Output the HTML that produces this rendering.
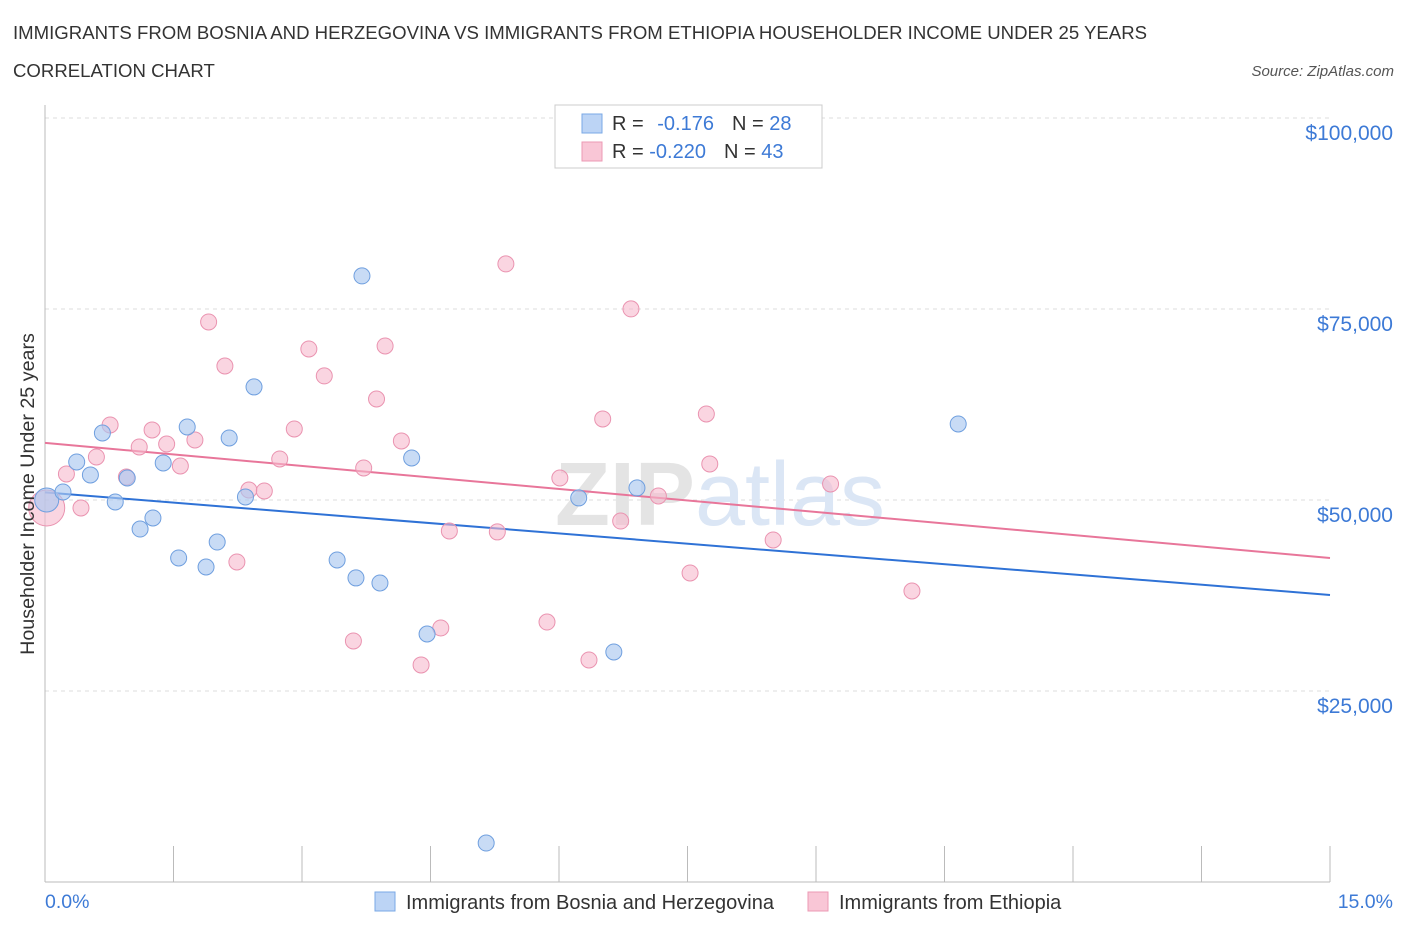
<!DOCTYPE html>
<html><head><meta charset="utf-8"><style>
body{margin:0;background:#fff;font-family:"Liberation Sans",sans-serif;}
</style></head><body>
<svg width="1406" height="930" xmlns="http://www.w3.org/2000/svg" style="font-family:'Liberation Sans',sans-serif">
<text x="13" y="39" font-size="18.6" fill="#333">IMMIGRANTS FROM BOSNIA AND HERZEGOVINA VS IMMIGRANTS FROM ETHIOPIA HOUSEHOLDER INCOME UNDER 25 YEARS</text>
<text x="13" y="77" font-size="18.6" fill="#333">CORRELATION CHART</text>
<text x="1394" y="76" font-size="15" fill="#555" text-anchor="end" font-style="italic">Source: ZipAtlas.com</text>
<g id="grid"></g>
<g id="axes"></g>
<text x="720" y="525" font-size="90" text-anchor="middle" fill="#e4e4e4" font-weight="bold">ZIP<tspan fill="#dbe6f5" font-weight="normal">atlas</tspan></text>
<g id="lines"></g>
<g id="pts"></g>
<text transform="translate(34,494) rotate(-90)" font-size="19.7" fill="#333" text-anchor="middle">Householder Income Under 25 years</text>
<text x="45" y="908" font-size="19.5" fill="#3d7ad6">0.0%</text>
<text x="1393" y="908" font-size="19.5" fill="#3d7ad6" text-anchor="end">15.0%</text>
<g>
<rect x="555" y="105" width="267" height="63" fill="#fff" stroke="#ccc"/>
<rect x="582" y="114" width="20" height="19" fill="#bcd4f5" stroke="#7aa8e6"/>
<rect x="582" y="142" width="20" height="19" fill="#f9c6d6" stroke="#ec9ab4"/>
<text x="612" y="130" font-size="20" fill="#333">R = <tspan fill="#3d7ad6" dx="8">-0.176</tspan><tspan dx="18">N = </tspan><tspan fill="#3d7ad6">28</tspan></text>
<text x="612" y="158" font-size="20" fill="#333">R = <tspan fill="#3d7ad6">-0.220</tspan><tspan dx="18">N = </tspan><tspan fill="#3d7ad6">43</tspan></text>
</g>
<g>
<rect x="375" y="892" width="20" height="19" fill="#bcd4f5" stroke="#7aa8e6"/>
<text x="406" y="909" font-size="20" fill="#333">Immigrants from Bosnia and Herzegovina</text>
<rect x="808" y="892" width="20" height="19" fill="#f9c6d6" stroke="#ec9ab4"/>
<text x="839" y="909" font-size="20" fill="#333">Immigrants from Ethiopia</text>
</g>
</svg>
<script>
const yTicks=[25000,50000,75000,100000];
const yTickLabels=["$25,000","$50,000","$75,000","$100,000"];
const xTicks=[0,1.5,3,4.5,6,7.5,9,10.5,12,13.5,15];
const blueX=[0.02,0.21,0.37,0.53,0.67,0.82,0.96,1.11,1.26,1.38,1.56,1.66,1.88,2.01,2.15,2.34,2.44,3.41,3.63,3.70,3.91,4.28,4.46,5.15,6.23,6.64,6.91,10.66];
const blueY=[50000,51050,54980,53280,58770,49740,52880,46200,47650,54850,42410,59560,41230,44500,58120,50400,64800,42150,39800,79330,39140,55500,32460,5100,50270,30110,51580,59950];
const pinkX=[0.02,0.25,0.42,0.60,0.76,0.95,1.10,1.25,1.42,1.58,1.75,1.91,2.10,2.24,2.38,2.56,2.74,2.91,3.08,3.26,3.60,3.72,3.87,3.97,4.16,4.39,4.62,4.72,5.28,5.38,5.86,6.01,6.35,6.51,6.72,6.84,7.16,7.53,7.72,7.76,8.50,9.17,10.12];
const pinkY=[48960,53410,48960,55630,59820,53010,56940,59170,57330,54450,57860,73300,67540,41890,51310,51180,55370,59300,69770,66240,31550,54190,63220,70160,57730,28410,33250,45950,45820,80900,34030,52880,29060,60610,47250,75010,50530,40450,61260,54720,44770,52100,38090];
const blueLine=[51000,37570];
const pinkLine=[57470,42410];
const NS="http://www.w3.org/2000/svg";
const X=v=>45+v/15*1285, Y=v=>882-v/25000*191;
function mk(t,a,p){const e=document.createElementNS(NS,t);for(const k in a)e.setAttribute(k,a[k]);p.appendChild(e);return e;}
const grid=document.getElementById('grid'),axes=document.getElementById('axes');
yTicks.forEach((t,i)=>{
 const l=mk('line',{x1:45,x2:1330,y1:Y(t),y2:Y(t),stroke:'#ddd','stroke-dasharray':'4,4'},grid);
 
 
 const tx=mk('text',{x:1393,y:Y(t)+22,'font-size':21,fill:'#3d7ad6','text-anchor':'end'},axes);
 tx.textContent=yTickLabels[i];
 
 
});
const xl=mk('line',{x1:45,x2:1330,y1:882,y2:882,stroke:'#bbb'},axes);


const yl=mk('line',{x1:45,x2:45,y1:105,y2:882,stroke:'#bbb'},axes);


xTicks.forEach(t=>{const l=mk('line',{x1:X(t),x2:X(t),y1:846,y2:882,stroke:'#bbb'},axes);
 
 });
const pts=document.getElementById('pts');
pinkX.forEach((x,i)=>{const c=mk('circle',{cx:X(x),cy:Y(pinkY[i]),r:i==0?18:8,fill:'#f7b9cd','fill-opacity':0.6,stroke:'#ea93b0','stroke-width':1},pts);
 
 });
blueX.forEach((x,i)=>{const c=mk('circle',{cx:X(x),cy:Y(blueY[i]),r:i==0?12:8,fill:'#aac8f0','fill-opacity':0.65,stroke:'#6f9fdf','stroke-width':1},pts);
 
 });
const lines=document.getElementById('lines');
const bl=mk('line',{x1:X(0),x2:X(15),y1:Y(blueLine[0]),y2:Y(blueLine[1]),stroke:'#2f72d6','stroke-width':2},lines);


const pl=mk('line',{x1:X(0),x2:X(15),y1:Y(pinkLine[0]),y2:Y(pinkLine[1]),stroke:'#e8769a','stroke-width':2},lines);


</script>
</body></html>
